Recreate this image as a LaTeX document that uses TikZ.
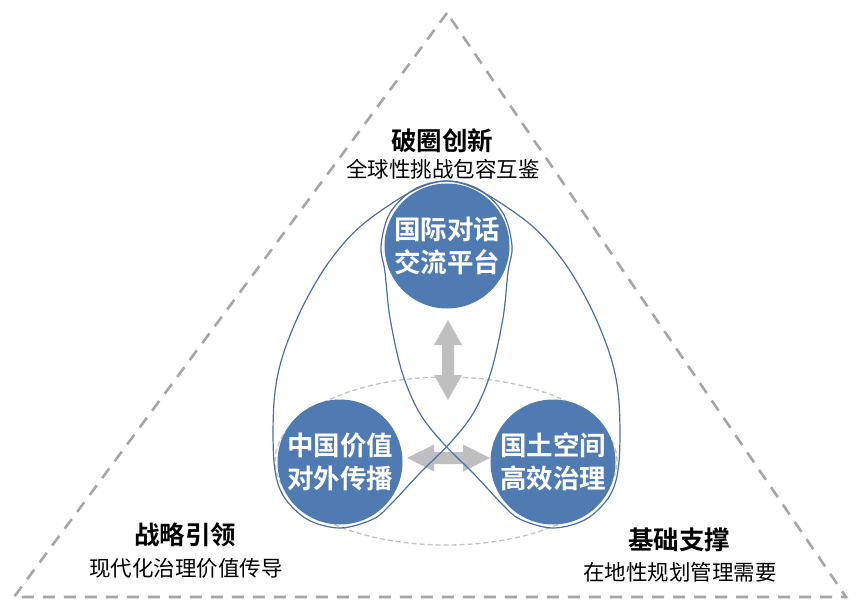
\documentclass[tikz,border=0pt]{standalone}
\usepackage{fontspec}
\newfontfamily\cjk{Noto Sans CJK SC}[BoldFont={Noto Sans CJK SC Bold}]
\definecolor{cblue}{RGB}{79,122,178}
\definecolor{lblue}{RGB}{74,112,165}
\definecolor{tgray}{RGB}{166,166,166}
\definecolor{egray}{RGB}{195,195,195}
\definecolor{agray}{RGB}{191,191,191}
\tikzset{
  hub/.style={circle,fill=cblue,minimum size=125pt,inner sep=0pt,align=center,
    text=white,font=\cjk\bfseries\fontsize{26.5}{33}\selectfont},
  ttl/.style={font=\cjk\bfseries\fontsize{25.5}{30}\selectfont,inner sep=0pt},
  sub/.style={font=\cjk\fontsize{21.5}{26}\selectfont,inner sep=0pt},
  loopline/.style={draw=lblue,line width=1.2pt},
  darrow/.style={fill=agray,draw=none},
}
\begin{document}
\begin{tikzpicture}[x=1pt,y=-1pt]
\useasboundingbox (0,0) rectangle (866,609);
\fill[white] (0,0) rectangle (866,609);
% triangle
\coordinate (apex) at (447,13);
\coordinate (bl) at (14,597);
\coordinate (br) at (846,597);
\draw[tgray,line width=2.6pt,dash pattern=on 12pt off 9pt,line join=miter]
  (apex) -- (bl) -- (br) -- cycle;
% dashed ellipse
\coordinate (ec) at (446,461);
\draw[egray,line width=1.3pt,dash pattern=on 5pt off 3pt]
  (ec) ellipse [x radius=171pt,y radius=84pt];
% arrows
\fill[darrow] (448,320) -- (462,345) -- (454,345) -- (454,375) -- (462,375) -- (448,400)
  -- (434,375) -- (442,375) -- (442,345) -- (434,345) -- cycle;
\fill[darrow] (407,458) -- (434,444.5) -- (434,452) -- (463,452) -- (463,444.5) -- (490,458)
  -- (463,471.5) -- (463,464) -- (434,464) -- (434,471.5) -- cycle;
% loops
\draw[loopline] plot[smooth cycle,tension=0.55] coordinates {
  (512,246) (503.3,213.5) (479.5,189.7) (447,181) (412.6,190.9)
  (362,225) (329,262) (302,308) (282,358) (274,402) (274,462)
  (282.8,495) (307,519.2) (340,528) (373,519.2) (391,504)
  (420,473) (451,442) (474,412) (491,372) (503,318) (508,272)};
\draw[loopline] plot[smooth cycle,tension=0.55] coordinates {
  (381,246) (389.7,213.5) (413.5,189.7) (446,181) (480.4,190.9)
  (531,225) (564,262) (591,308) (611,358) (619,402) (619,462)
  (610.2,495) (586,519.2) (553,528) (520,519.2) (502,504)
  (473,473) (442,442) (419,412) (402,372) (390,318) (385,272)};
% hubs
\node[hub] (t) at (447,246) {国际对话\\交流平台};
\node[hub] (l) at (340,462) {中国价值\\对外传播};
\node[hub] (r) at (553,462) {国土空间\\高效治理};
% labels
\node[ttl] (t1) at (442,141) {破圈创新};
\node[sub] (t2) at (443,169) {全球性挑战包容互鉴};
\node[ttl] (l1) at (185,535) {战略引领};
\node[sub] (l2) at (186,568) {现代化治理价值传导};
\node[ttl] (r1) at (679,540) {基础支撑};
\node[sub] (r2) at (680,572) {在地性规划管理需要};
\end{tikzpicture}
\end{document}
